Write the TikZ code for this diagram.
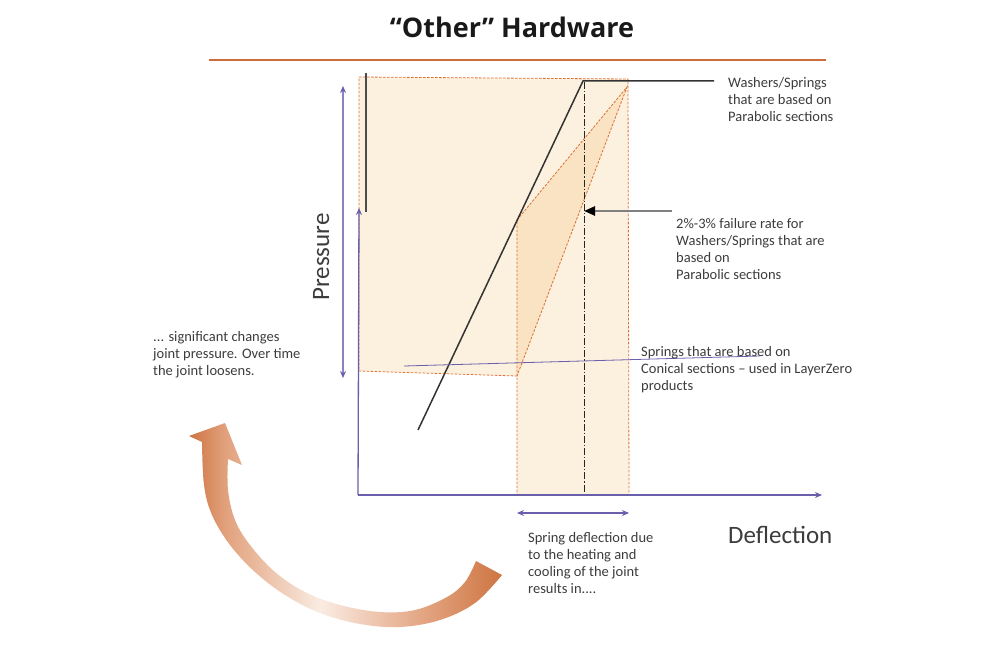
\documentclass[tikz,border=0pt]{standalone}
\usepackage{fontspec}
\setmainfont{Carlito}
\newfontfamily\titlefont{Open Sans}
\usetikzlibrary{arrows.meta}
\definecolor{axisc}{RGB}{105,95,170}
\definecolor{axisl}{RGB}{140,130,195}
\definecolor{dashor}{RGB}{220,110,50}
\definecolor{peach}{RGB}{252,240,222}
\definecolor{peachdk}{RGB}{250,227,194}
\definecolor{txtc}{RGB}{60,60,60}
\definecolor{ruleor}{RGB}{205,110,60}
\definecolor{arrA}{RGB}{206,117,66}
\definecolor{arrB}{RGB}{226,162,126}
\definecolor{arrC}{RGB}{250,236,227}
\pgfdeclarehorizontalshading{arrowshade}{100bp}{color(0bp)=(arrA); color(25bp)=(arrA); color(31bp)=(arrB); color(46bp)=(arrC); color(63bp)=(arrB); color(75bp)=(arrA); color(100bp)=(arrA)}
\begin{document}
\begin{tikzpicture}[x=1pt,y=-1pt,
  txt/.style={font=\fontsize{14.5}{17}\selectfont, text=txtc, align=left, inner sep=0pt, anchor=base west},
  big/.style={font=\fontsize{25}{30}\selectfont, text=txtc, inner sep=0pt},
  axisline/.style={draw=axisc, line width=1.3pt},
  ptip/.tip={Stealth[length=7pt,width=6pt,color=axisc]},
  orline/.style={draw=dashor, line width=0.8pt, dash pattern=on 2.5pt off 1.5pt},
  blk/.style={draw=black!80, line width=1.5pt}
]
\useasboundingbox (0,0) rectangle (1000,671);
% coordinates
\coordinate (O) at (358,495);
\coordinate (Xend) at (822,495);
\coordinate (Yend) at (359,208);
\coordinate (RTL) at (359,77);
\coordinate (RTR) at (628,79);
\coordinate (RBR) at (629,495);
\coordinate (RBL) at (517,495);
\coordinate (RMid) at (517,376);
\coordinate (RLL) at (359,371);
\coordinate (TA) at (517,220);
\coordinate (TB) at (627,87);
\coordinate (BL1) at (418,430);
\coordinate (BL2) at (583,81);
\coordinate (BL3) at (714,81);
\coordinate (DD1) at (584,82);
\coordinate (DD2) at (584,493);
\coordinate (FA1) at (672,211);
\coordinate (FA2) at (584,211);
\coordinate (PL1) at (404,366);
\coordinate (PL2) at (760,356);
\coordinate (SV1) at (366,73);
\coordinate (SV2) at (366,212);
\coordinate (PA1) at (343,86);
\coordinate (PA2) at (343,378);
\coordinate (DA1) at (517,513);
\coordinate (DA2) at (629,513);
\coordinate (RU1) at (209,60);
\coordinate (RU2) at (826,60);

% title
\node[font=\titlefont\bfseries\fontsize{27}{32}\selectfont, text=black!90, anchor=base, inner sep=0pt] (title) at (512,38) {“Other” Hardware};
\draw[draw=ruleor, line width=2pt] (RU1) -- (RU2);

% shaded regions
\fill[peach] (RTL) -- (RTR) -- (RBR) -- (RBL) -- (RMid) -- (RLL) -- cycle;
\fill[peachdk] (TA) -- (TB) -- (RMid) -- cycle;
\draw[orline] (RTL) -- (RTR) -- (RBR) -- (RBL) -- (RMid) -- (RLL) -- cycle;
\draw[orline] (RMid) -- (TA) -- (TB) -- (RMid);

% black lines
\draw[blk] (BL1) -- (BL2) -- (BL3);
\draw[draw=black!70, line width=1.2pt] (SV1) -- (SV2);
\draw[draw=black!85, line width=0.9pt, dash pattern=on 7pt off 2pt on 1.2pt off 2pt] (DD1) -- (DD2);
\draw[draw=black!50, line width=2.4pt, -{Triangle[length=11pt,width=9pt,color=black]}] (FA1) -- (FA2);
\draw[draw=axisc, line width=0.8pt] (PL1) -- (PL2);

% axes
\draw[axisline, -{ptip}] (O) -- (Xend);
\draw[axisline, -{ptip}] (O) -- (Yend);
\draw[draw=axisl, line width=1.3pt, {ptip}-{ptip}] (PA1) -- (PA2);
\draw[draw=axisc, line width=1.3pt, {ptip}-{ptip}] (DA1) -- (DA2);

% curved arrow
\shade[shading=arrowshade] plot[smooth, tension=0.6] coordinates {(502,575) (475,603) (440,620) (400,627) (360,624) (320,613) (285,595) (255,572) (230,545) (212,515) (204,485) (202,442)}
  -- (189,436) -- (225,423) -- (242,465) -- (228,459)
  -- plot[smooth, tension=0.6] coordinates {(228,459) (228,490) (235,520) (250,545) (275,572) (305,592) (340,605) (380,612) (415,610) (447,597) (465,582) (476,561)} -- cycle;

% texts (anchored at the baseline of the last line)
\node[txt] (wash) at (728,122) {Washers/Springs\\that are based on\\Parabolic sections};
\node[txt] (fail) at (676,279) {2\%-3\% failure rate for\\Washers/Springs that are\\based on\\Parabolic sections};
\node[txt] (coni) at (641,390) {Springs that are based on\\Conical sections – used in LayerZero\\products};
\node[txt] (sig) at (153,375) {... significant changes\\joint pressure. Over time\\the joint loosens.};
\node[txt] (sprd) at (528,593) {Spring deflection due\\to the heating and\\cooling of the joint\\results in....};
\node[big, anchor=base west] (defl) at (728,543) {Deflection};
\node[big, anchor=base, rotate=90] (pres) at (329,257) {Pressure};
\end{tikzpicture}
\end{document}
